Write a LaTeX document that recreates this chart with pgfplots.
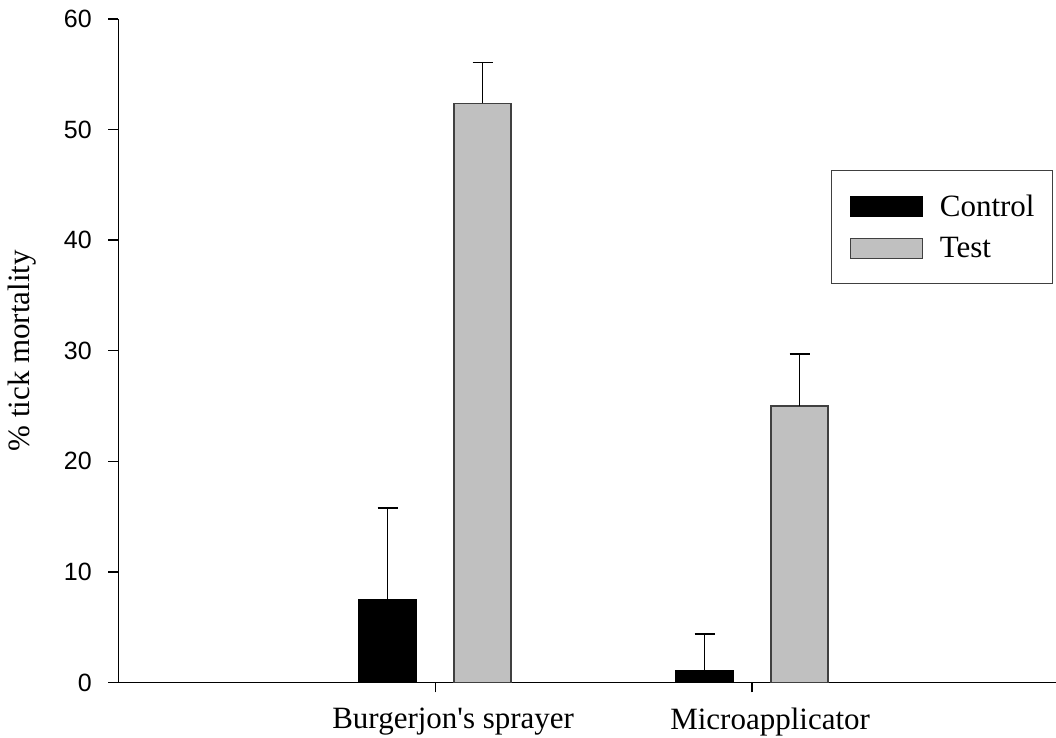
\documentclass[border=0pt]{standalone}
\usepackage{fontspec}
\setmainfont{Liberation Serif}
\setsansfont{Liberation Sans}
\usepackage{pgfplots}
\pgfplotsset{compat=1.18}
\usetikzlibrary{calc}

\definecolor{bargrey}{RGB}{192,192,192}
\definecolor{edgegrey}{RGB}{64,64,64}

\begin{document}
\begin{tikzpicture}
\begin{axis}[
    scale only axis,
    width=937.7pt, height=663.5pt,
    xmin=0, xmax=2.959,
    ymin=0, ymax=60,
    axis x line=bottom, axis y line=left,
    axis line style={-, line width=1.4pt},
    tick style={line width=1.4pt, black},
    tick align=outside,
    major tick length=10pt,
    xtick={1,2},
    xticklabels={Burgerjon\textquotesingle s sprayer, Microapplicator},
    ytick={0,10,...,60},
    /pgf/number format/assume math mode=true,
    xticklabel style={font=\fontsize{31}{37}\selectfont, yshift=-12pt, xshift=18pt},
    yticklabel style={font=\fontsize{25}{30}\sffamily, xshift=-13pt},
    ylabel={\% tick mortality},
    ylabel style={font=\fontsize{31}{37}\selectfont, yshift=21pt},
    bar width=57pt,
    ybar,
    legend style={at={(rel axis cs:0.760,0.7724)}, anchor=north west,
        draw=edgegrey, line width=1.4pt,
        inner xsep=18pt, inner ysep=24.5pt,
        row sep=19pt, column sep=17pt,
        nodes={inner sep=0pt, font=\fontsize{31}{37}\selectfont}},
    legend cell align=left,
    legend image code/.code={\draw[#1, line width=1.2pt] (0pt,-10pt) rectangle (72pt,10pt);},
]
\addplot[bar shift=-47.5pt, fill=black, draw=black, line width=1.5pt,
    error bars/.cd, y dir=plus, y explicit,
    error bar style={line width=1.5pt, black},
    error mark options={rotate=90, line width=1.5pt, black, mark size=10pt}]
    coordinates {(1,7.52) +- (0,8.26) (2,1.07) +- (0,3.32)};
\addplot[bar shift=47.5pt, fill=bargrey, draw=edgegrey, line width=1.5pt,
    error bars/.cd, y dir=plus, y explicit,
    error bar style={line width=1.5pt, black},
    error mark options={rotate=90, line width=1.5pt, black, mark size=10pt}]
    coordinates {(1,52.38) +- (0,3.67) (2,25.0) +- (0,4.7)};
\legend{Control, Test}
\end{axis}
\pgfresetboundingbox
\path[use as bounding box] ($(current axis.south west)+(-118.3pt,-55.5pt)$) rectangle ($(current axis.north east)+(0pt,19pt)$);
\end{tikzpicture}
\end{document}
